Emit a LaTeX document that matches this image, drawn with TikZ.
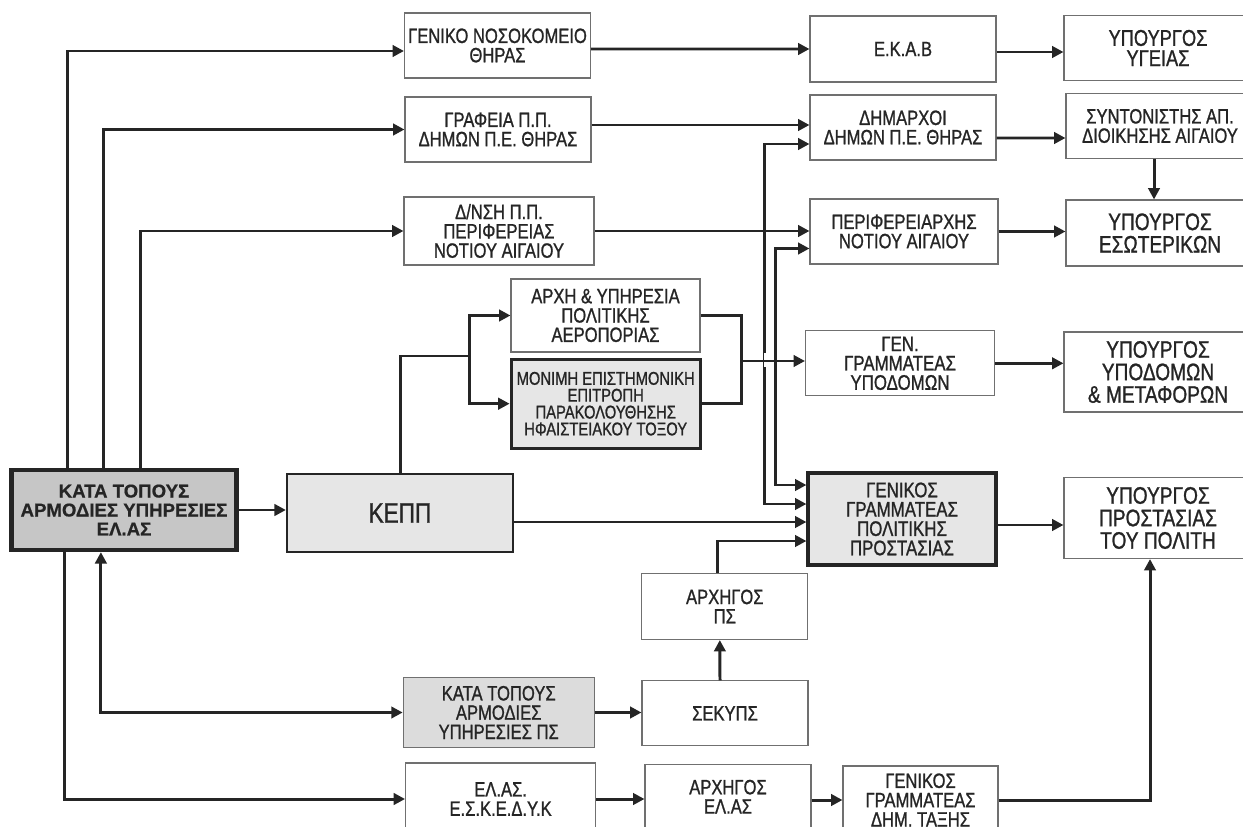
\documentclass[tikz,border=0pt]{standalone}
\usepackage{fontspec}
\setmainfont[FakeStretch=0.8, FakeBold=1]{Liberation Sans}
\newfontfamily\headfont[FakeBold=0.6]{Liberation Sans}
\usepackage{tikz}
\usetikzlibrary{arrows.meta}
\usetikzlibrary{calc}

\definecolor{inkgray}{HTML}{252525}
\definecolor{rimgray}{HTML}{707070}
\definecolor{darkfill}{HTML}{C6C6C6}
\definecolor{midfill}{HTML}{DCDCDC}
\definecolor{lightfill}{HTML}{E6E6E6}

\tikzset{
  wh/.style 2 args={minimum width=#1*0.02cm, minimum height=#2*0.02cm},
  box/.style={draw=rimgray, line width=0.6pt, fill=white, align=center, inner sep=1pt,
    text=inkgray, font=\fontsize{11.8}{11}\selectfont},
  bigbox/.style={box, font=\fontsize{13.6}{12.8}\selectfont},
  keybox/.style={box, draw=inkgray, line width=1.8pt, fill=lightfill, font=\fontsize{12}{11}\selectfont},
  conn/.style={draw=inkgray, line width=1.7pt},
  arr/.style={conn, -{Triangle[length=6.5pt,width=6.5pt]}},
  dbl/.style={conn, {Triangle[length=6.5pt,width=6.5pt]}-{Triangle[length=6.5pt,width=6.5pt]}}
}

\begin{document}
\begin{tikzpicture}[x=0.02cm,y=-0.02cm]
     \useasboundingbox (0,0) rectangle (1243,827);
     \clip (0,0) rectangle (1243,827);

     \node[box, draw=inkgray, line width=2.4pt, fill=darkfill, wh={225}{80}, font=\headfont\bfseries\fontsize{10.6}{10.8}\selectfont] (elas) at (124,510) {ΚΑΤΑ ΤΟΠΟΥΣ\\ΑΡΜΟΔΙΕΣ ΥΠΗΡΕΣΙΕΣ\\ΕΛ.ΑΣ};
     \node[box, draw=inkgray, line width=1.3pt, fill=lightfill, wh={226}{78}, font=\fontsize{16}{16}\selectfont] (kepp) at (400,513) {ΚΕΠΠ};

     \node[box, wh={186}{65}] (nosok) at (497.5,45.5) {ΓΕΝΙΚΟ ΝΟΣΟΚΟΜΕΙΟ\\ΘΗΡΑΣ};
     \node[box, wh={186}{65}] (grafeia) at (498,129.5) {ΓΡΑΦΕΙΑ Π.Π.\\ΔΗΜΩΝ Π.Ε. ΘΗΡΑΣ};
     \node[box, wh={190}{68}] (dnsi) at (499,231) {Δ/ΝΣΗ Π.Π.\\ΠΕΡΙΦΕΡΕΙΑΣ\\ΝΟΤΙΟΥ ΑΙΓΑΙΟΥ};
     \node[box, wh={189}{73}] (arxi) at (605.5,315.5) {ΑΡΧΗ \& ΥΠΗΡΕΣΙΑ\\ΠΟΛΙΤΙΚΗΣ\\ΑΕΡΟΠΟΡΙΑΣ};
     \node[keybox, wh={189}{89}, font=\fontsize{10.5}{9.6}\selectfont] (monimi) at (605.7,403.7) {ΜΟΝΙΜΗ ΕΠΙΣΤΗΜΟΝΙΚΗ\\ΕΠΙΤΡΟΠΗ\\ΠΑΡΑΚΟΛΟΥΘΗΣΗΣ\\ΗΦΑΙΣΤΕΙΑΚΟΥ ΤΟΞΟΥ};
     \node[box, fill=midfill, wh={191}{70}] (ktps) at (498.7,712.5) {ΚΑΤΑ ΤΟΠΟΥΣ\\ΑΡΜΟΔΙΕΣ\\ΥΠΗΡΕΣΙΕΣ ΠΣ};
     \node[box, wh={190}{72}] (eskedyk) at (500.6,799) {ΕΛ.ΑΣ.\\Ε.Σ.Κ.Ε.Δ.Υ.Κ};

     \node[box, wh={166}{66}] (arxps) at (724.8,606.5) {ΑΡΧΗΓΟΣ\\ΠΣ};
     \node[box, wh={166}{65}] (sekyps) at (725,713.3) {ΣΕΚΥΠΣ};
     \node[box, wh={166}{65}] (arxelas) at (728,796.7) {ΑΡΧΗΓΟΣ\\ΕΛ.ΑΣ};

     \node[box, wh={186}{66}] (ekab) at (903,49) {Ε.Κ.Α.Β};
     \node[box, wh={186}{65}] (dimarxoi) at (903,127.5) {ΔΗΜΑΡΧΟΙ\\ΔΗΜΩΝ Π.Ε. ΘΗΡΑΣ};
     \node[box, wh={188}{65}] (perif) at (904,231.5) {ΠΕΡΙΦΕΡΕΙΑΡΧΗΣ\\ΝΟΤΙΟΥ ΑΙΓΑΙΟΥ};
     \node[box, wh={189}{65}, font=\fontsize{12}{11}\selectfont] (genyp) at (900,363.3) {ΓΕΝ.\\ΓΡΑΜΜΑΤΕΑΣ\\ΥΠΟΔΟΜΩΝ};
     \node[keybox, wh={188}{92}] (ggpp) at (902,519) {ΓΕΝΙΚΟΣ\\ΓΡΑΜΜΑΤΕΑΣ\\ΠΟΛΙΤΙΚΗΣ\\ΠΡΟΣΤΑΣΙΑΣ};
     \node[box, wh={155}{68}] (gdt) at (920.5,800) {ΓΕΝΙΚΟΣ\\ΓΡΑΜΜΑΤΕΑΣ\\ΔΗΜ. ΤΑΞΗΣ};

     \node[box, wh={188}{65}, font=\fontsize{13}{11.5}\selectfont] (ygeias) at (1158,48) {ΥΠΟΥΡΓΟΣ\\ΥΓΕΙΑΣ};
     \node[box, wh={188}{65}] (syntonistis) at (1160,126) {ΣΥΝΤΟΝΙΣΤΗΣ ΑΠ.\\ΔΙΟΙΚΗΣΗΣ ΑΙΓΑΙΟΥ};
     \node[bigbox, wh={188}{66}] (esot) at (1160,233) {ΥΠΟΥΡΓΟΣ\\ΕΣΩΤΕΡΙΚΩΝ};
     \node[bigbox, wh={188}{80}] (ypodomon) at (1158,372) {ΥΠΟΥΡΓΟΣ\\ΥΠΟΔΟΜΩΝ\\\& ΜΕΤΑΦΟΡΩΝ};
     \node[bigbox, wh={188}{81}] (prostasias) at (1158,518) {ΥΠΟΥΡΓΟΣ\\ΠΡΟΣΤΑΣΙΑΣ\\ΤΟΥ ΠΟΛΙΤΗ};

     \draw[arr] ($(elas.north west)+(58.5,0)$) |- ($(nosok.west)+(0,5.5)$);
     \draw[arr] ($(elas.north west)+(94.5,0)$) |- (grafeia.west);
     \draw[arr] ($(elas.north west)+(131.5,0)$) |- (dnsi.west);
     \draw[arr] (elas.east) -- (elas.east -| kepp.west);
     \draw[arr] ($(elas.south west)+(55.5,0)$) |- (eskedyk.west);
     \draw[dbl] ($(elas.south west)+(91.5,0)$) |- (ktps.west);

     \coordinate (br) at (469,356);
     \draw[conn] (kepp.north) |- (br);
     \draw[arr] (br) |- (arxi.west);
     \draw[arr] (br) |- (monimi.west);

     \draw[arr] ($(nosok.east)+(0,3.5)$) -- (ekab.west);
     \draw[arr] ($(ekab.east)+(0,3)$) -- ($(ygeias.west)+(0,4)$);
     \draw[arr] ($(grafeia.east)+(0,-4.5)$) -- ($(dimarxoi.west)+(0,-2.5)$);
     \draw[arr] ($(dimarxoi.east)+(0,10.5)$) -- ($(syntonistis.west)+(0,12)$);
     \draw[arr] ($(syntonistis.south)+(-6,0)$) -- ($(esot.north)+(-6,0)$);
     \draw[arr] (dnsi.east) -- (dnsi.east -| perif.west);
     \draw[arr] (perif.east) -- (perif.east -| esot.west);

     \draw[dbl] ($(perif.west)+(0,17)$) -| ($(ggpp.west)+(-30.5,-34)$) -- ($(ggpp.west)+(0,-34)$);
     \draw[dbl] ($(dimarxoi.west)+(0,16.5)$) -| ($(ggpp.west)+(-42,-15)$) -- ($(ggpp.west)+(0,-15)$);

     \coordinate (mj) at (741,361);
     \draw[conn] (arxi.east) -| (mj) |- (monimi.east);
     \draw[white, line width=2.4pt] ($(mj)+(25,-8)$) -- ($(mj)+(25,6)$);
     \draw[arr] (mj) -- (mj -| genyp.west);
     \draw[arr] (genyp.east) -- (genyp.east -| ypodomon.west);

     \draw[arr] ($(kepp.east)+(0,9)$) -- ($(ggpp.west)+(0,3)$);
     \draw[arr] ($(arxps.north)+(-7,0)$) |- ($(ggpp.west)+(0,22)$);
     \draw[arr] ($(sekyps.north)+(-5,0)$) -- ($(arxps.south)+(-5,0)$);
     \draw[arr] (ktps.east) -- (ktps.east -| sekyps.west);
     \draw[arr] ($(ggpp.east)+(0,6)$) -- ($(prostasias.west)+(0,7)$);

     \draw[arr] (eskedyk.east) -- (eskedyk.east -| arxelas.west);
     \draw[arr] (gdt.west -| arxelas.east) -- (gdt.west);
     \draw[arr] (gdt.east) -| ($(prostasias.south)+(-8,0)$);
\end{tikzpicture}
\end{document}
